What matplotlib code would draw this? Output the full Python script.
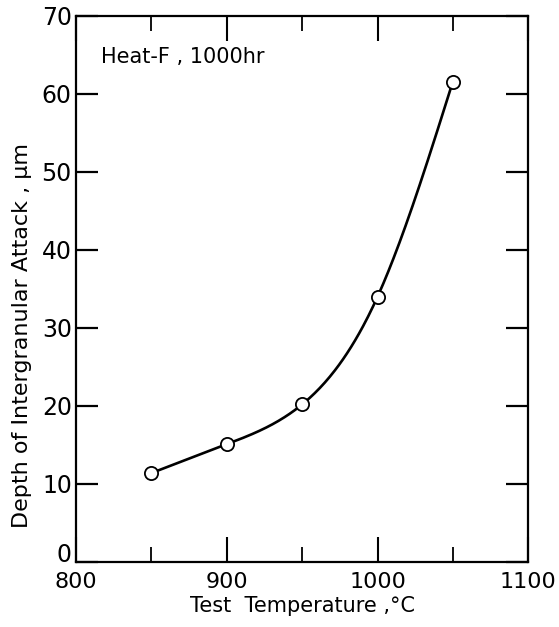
import numpy as np
import matplotlib
matplotlib.use("Agg")
import matplotlib.pyplot as plt
from matplotlib.ticker import MultipleLocator

# Data
temperature = [850, 900, 950, 1000, 1050]
depth = [11.4, 15.1, 20.2, 34.0, 61.6]

x_ticks = [800, 900, 1000, 1100]
y_ticks = [0, 10, 20, 30, 40, 50, 60, 70]
annotation = "Heat-F , 1000hr"
x_label = "Test  Temperature ,°C"
y_label = "Depth of Intergranular Attack , μm"


def natural_cubic_spline(xs, ys, xq):
    xs = np.asarray(xs, float)
    ys = np.asarray(ys, float)
    n = len(xs)
    h = np.diff(xs)
    A = np.zeros((n, n))
    b = np.zeros(n)
    A[0, 0] = 1
    A[-1, -1] = 1
    for i in range(1, n - 1):
        A[i, i - 1] = h[i - 1]
        A[i, i] = 2 * (h[i - 1] + h[i])
        A[i, i + 1] = h[i]
        b[i] = 6 * ((ys[i + 1] - ys[i]) / h[i] - (ys[i] - ys[i - 1]) / h[i - 1])
    M = np.linalg.solve(A, b)
    out = np.empty_like(xq)
    for k, x in enumerate(xq):
        i = min(max(np.searchsorted(xs, x) - 1, 0), n - 2)
        t0 = xs[i + 1] - x
        t1 = x - xs[i]
        out[k] = (M[i] * t0 ** 3 / (6 * h[i]) + M[i + 1] * t1 ** 3 / (6 * h[i])
                  + (ys[i] / h[i] - M[i] * h[i] / 6) * t0
                  + (ys[i + 1] / h[i] - M[i + 1] * h[i] / 6) * t1)
    return out


plt.rcParams['font.family'] = ['DejaVu Sans']

fig = plt.figure(figsize=(5.59, 6.27), dpi=100)
ax = fig.add_axes([0.136, 0.1037, 0.809, 0.8708])

xs = np.linspace(min(temperature), max(temperature), 300)
ax.plot(xs, natural_cubic_spline(temperature, depth, xs), color='black', lw=1.9, zorder=2)
ax.plot(temperature, depth, 'o', ms=9.5, mfc='white', mec='black', mew=1.3, zorder=3)

ax.set_xlim(800, 1100)
ax.set_ylim(0, 70)
ax.set_xticks(x_ticks)
ax.set_yticks(y_ticks)
ax.xaxis.set_minor_locator(MultipleLocator(50))

for s in ax.spines.values():
    s.set_linewidth(1.6)

ax.tick_params(axis='x', which='major', direction='in', length=18, width=1.5,
               top=True, bottom=True, labelsize=16, pad=7)
ax.tick_params(axis='x', which='minor', direction='in', length=11, width=1.3,
               top=True, bottom=True)
ax.tick_params(axis='y', which='major', direction='in', length=16, width=1.6,
               left=True, right=True, labelsize=17, pad=3)

# the "0" label sits just above the corner, as in the reference
ax.get_yticklabels()[0].set_va('baseline')

ax.set_xlabel(x_label, fontsize=15, labelpad=3)
ax.set_ylabel(y_label, fontsize=16, labelpad=4)
ax.yaxis.set_label_coords(-0.098, 0.415)

ax.text(0.055, 0.925, annotation, transform=ax.transAxes, fontsize=15,
        ha='left', va='center')

fig.savefig("out.png", dpi=100)
